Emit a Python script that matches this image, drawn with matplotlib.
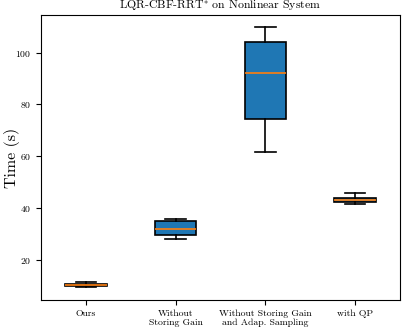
import matplotlib
matplotlib.use("Agg")
import matplotlib.pyplot as plt

plt.rcParams['font.family'] = 'serif'
plt.rcParams['font.serif'] = ['cmr10', 'DejaVu Serif']
plt.rcParams['mathtext.fontset'] = 'cm'
plt.rcParams['axes.unicode_minus'] = False
plt.rcParams['axes.formatter.use_mathtext'] = True

categories = ["Ours", "Without\nStoring Gain", "Without Storing Gain\nand Adap. Sampling", "with QP"]
whislo = [9.3, 27.9, 61.5, 41.4]
q1 = [9.8, 29.4, 74.2, 42.2]
med = [10.2, 32.0, 92.0, 42.9]
q3 = [10.6, 34.8, 104.2, 43.8]
whishi = [11.2, 35.6, 109.8, 45.6]

stats = []
for lab, lo, a, m, b, hi in zip(categories, whislo, q1, med, q3, whishi):
    stats.append(dict(label=lab, whislo=lo, q1=a, med=m, q3=b, whishi=hi, fliers=[]))

fig = plt.figure(figsize=(4.04, 3.28), dpi=100)
ax = fig.add_axes([0.102, 0.0854, 0.888, 0.869])
ax.bxp(stats, widths=0.46, patch_artist=True,
       boxprops=dict(facecolor='#1f77b4', edgecolor='black', linewidth=1.2),
       medianprops=dict(color='#ff7f0e', linewidth=1.2),
       whiskerprops=dict(color='black', linewidth=1.2),
       capprops=dict(color='black', linewidth=1.2))
ax.set_ylim(4.4, 114.6)
ax.set_yticks([20, 40, 60, 80, 100])
ax.tick_params(labelsize=7)
for t in ax.get_xticklabels():
    t.set_linespacing(1.1)
ax.set_ylabel("Time (s)", fontsize=11.5)
ax.yaxis.set_label_coords(-0.058, 0.5)
ax.set_title(r"LQR-CBF-RRT$^{*}$ on Nonlinear System", fontsize=8.5, pad=4)
fig.savefig("out.png", dpi=100)
